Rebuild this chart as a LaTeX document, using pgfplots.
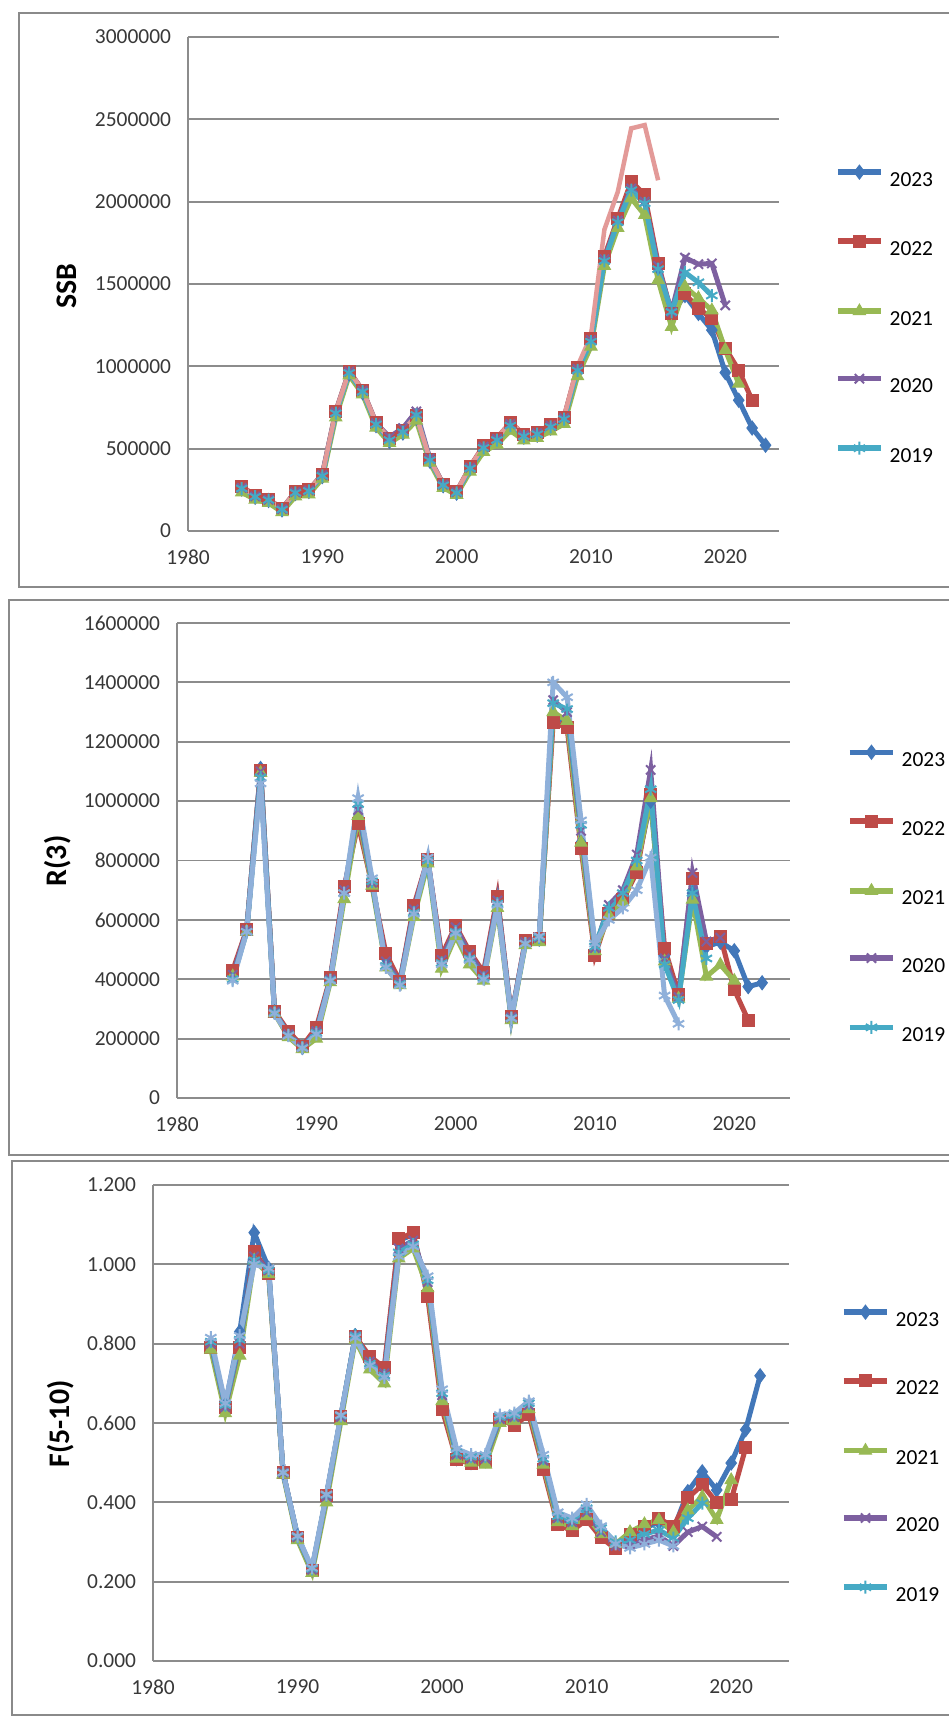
\documentclass[border=0pt]{standalone}
\usepackage{fontspec}
\setmainfont{Carlito}
\usepackage{pgfplots}
\usepackage{pgfplotstable}
\pgfplotsset{compat=1.18}

\definecolor{c23}{HTML}{4277B9}
\definecolor{c22}{HTML}{BE4B48}
\definecolor{c21}{HTML}{98B954}
\definecolor{c20}{HTML}{7D60A0}
\definecolor{c19}{HTML}{46AAC5}
\definecolor{cpink}{HTML}{E39A98}
\definecolor{clb}{HTML}{8FB0DA}
\definecolor{gridc}{HTML}{8C8C8C}
\definecolor{framec}{HTML}{8A8A8A}

\pgfplotstableread{
year s23 s22 s21 s20 s19 sx
1984 255000 270000 235000 262000 258000 268000
1985 205000 215000 190000 210000 208000 214000
1986 185000 193000 170000 190000 188000 192000
1987 128000 135000 115000 133000 130000 135000
1988 228000 239000 210000 236000 232000 238000
1989 240000 250000 222000 247000 243000 250000
1990 330000 343000 318000 340000 335000 342000
1991 705000 726000 690000 722000 715000 726000
1992 955000 970000 945000 968000 960000 970000
1993 840000 854000 830000 852000 846000 855000
1994 640000 657000 628000 655000 648000 657000
1995 545000 560000 535000 570000 552000 560000
1996 595000 610000 585000 625000 600000 610000
1997 685000 700000 670000 726000 705000 700000
1998 425000 436000 415000 440000 430000 436000
1999 275000 285000 262000 282000 278000 285000
2000 230000 239000 220000 236000 232000 240000
2001 378000 390000 360000 385000 380000 390000
2002 500000 517000 480000 512000 505000 517000
2003 548000 564000 525000 560000 552000 565000
2004 635000 657000 610000 650000 640000 657000
2005 570000 587000 550000 582000 575000 587000
2006 582000 598000 565000 594000 588000 600000
2007 625000 645000 605000 640000 632000 645000
2008 672000 691000 650000 686000 680000 695000
2009 965000 993000 940000 985000 975000 1000000
2010 1140000 1167000 1120000 1160000 1150000 1185000
2011 1630000 1666000 1610000 1650000 1640000 1830000
2012 1870000 1898000 1840000 1885000 1875000 2060000
2013 2090000 2122000 2020000 2080000 2070000 2445000
2014 2010000 2041000 1919000 2000000 1990000 2465000
2015 1600000 1625000 1524000 1610000 1590000 2130000
2016 1320000 1321000 1240000 1330000 1330000 nan
2017 1430000 1440000 1483000 1660000 1570000 nan
2018 1321000 1351000 1414000 1620000 1510000 nan
2019 1220000 1292000 1340000 1625000 1430000 nan
2020 962000 1110000 1100000 1370000 nan nan
2021 794000 977000 895000 nan nan nan
2022 625000 794000 nan nan nan nan
2023 521000 nan nan nan nan nan
}\ssbtable

\pgfplotstableread{
year s23 s22 s21 s20 s19 sx
1984 420000 430000 410000 415000 400000 395000
1985 565000 567000 560000 565000 560000 560000
1986 1110000 1104000 1095000 1100000 1080000 1060000
1987 290000 293000 285000 290000 288000 285000
1988 215000 224000 205000 215000 212000 210000
1989 170000 175000 165000 172000 170000 168000
1990 225000 237000 200000 225000 220000 215000
1991 400000 405000 390000 400000 398000 395000
1992 700000 711000 670000 700000 690000 690000
1993 940000 923000 950000 970000 990000 1010000
1994 720000 717000 715000 725000 730000 740000
1995 470000 486000 440000 460000 445000 440000
1996 390000 393000 380000 390000 385000 380000
1997 640000 648000 610000 635000 625000 620000
1998 800000 804000 790000 805000 800000 810000
1999 470000 480000 436000 465000 455000 450000
2000 570000 580000 545000 575000 560000 555000
2001 480000 493000 450000 485000 470000 465000
2002 415000 424000 395000 415000 405000 400000
2003 670000 680000 640000 665000 655000 650000
2004 270000 274000 262000 272000 270000 268000
2005 525000 530000 515000 525000 520000 520000
2006 535000 536000 525000 540000 540000 545000
2007 1290000 1266000 1300000 1340000 1330000 1400000
2008 1260000 1247000 1270000 1300000 1310000 1350000
2009 860000 842000 860000 900000 920000 935000
2010 490000 480000 495000 505000 510000 520000
2011 630000 623000 615000 650000 640000 600000
2012 680000 667000 660000 700000 690000 640000
2013 780000 760000 780000 820000 800000 700000
2014 1000000 1022000 1010000 1105000 1040000 810000
2015 480000 505000 460000 470000 450000 345000
2016 345000 349000 335000 340000 330000 250000
2017 690000 741000 668000 758000 690000 nan
2018 510000 522000 409000 527000 470000 nan
2019 525000 545000 449000 540000 nan nan
2020 496000 365000 395000 nan nan nan
2021 375000 262000 nan nan nan nan
2022 388000 nan nan nan nan nan
}\rtable

\pgfplotstableread{
year s23 s22 s21 s20 s19 sx
1984 0.800 0.791 0.785 0.800 0.805 0.815
1985 0.645 0.640 0.625 0.640 0.645 0.650
1986 0.830 0.791 0.770 0.800 0.810 0.820
1987 1.080 1.033 1.010 1.020 1.010 1.000
1988 0.990 0.978 0.975 0.985 0.985 0.990
1989 0.475 0.475 0.470 0.475 0.475 0.475
1990 0.315 0.311 0.305 0.312 0.313 0.315
1991 0.230 0.229 0.222 0.230 0.232 0.235
1992 0.415 0.416 0.400 0.415 0.418 0.420
1993 0.615 0.617 0.605 0.615 0.618 0.620
1994 0.820 0.818 0.810 0.820 0.820 0.815
1995 0.760 0.768 0.735 0.755 0.750 0.745
1996 0.735 0.740 0.700 0.725 0.720 0.715
1997 1.060 1.065 1.015 1.040 1.030 1.020
1998 1.075 1.079 1.040 1.060 1.050 1.045
1999 0.930 0.919 0.940 0.955 0.960 0.970
2000 0.645 0.635 0.655 0.670 0.675 0.685
2001 0.510 0.507 0.510 0.520 0.525 0.535
2002 0.500 0.498 0.500 0.510 0.515 0.520
2003 0.505 0.503 0.495 0.510 0.515 0.520
2004 0.610 0.608 0.600 0.610 0.615 0.620
2005 0.600 0.594 0.605 0.615 0.620 0.625
2006 0.630 0.622 0.635 0.645 0.650 0.655
2007 0.490 0.484 0.495 0.505 0.510 0.520
2008 0.350 0.343 0.350 0.360 0.365 0.375
2009 0.340 0.329 0.340 0.350 0.355 0.360
2010 0.360 0.356 0.365 0.375 0.385 0.395
2011 0.315 0.311 0.320 0.325 0.335 0.340
2012 0.290 0.283 0.295 0.290 0.300 0.295
2013 0.315 0.320 0.325 0.295 0.305 0.285
2014 0.335 0.338 0.345 0.305 0.320 0.295
2015 0.350 0.360 0.355 0.315 0.330 0.305
2016 0.330 0.338 0.325 0.290 0.310 0.290
2017 0.427 0.411 0.380 0.325 0.360 nan
2018 0.477 0.444 0.414 0.339 0.398 nan
2019 0.431 0.400 0.356 0.313 nan nan
2020 0.499 0.406 0.456 nan nan nan
2021 0.583 0.537 nan nan nan nan
2022 0.719 nan nan nan nan nan
}\ftable

\pgfplotsset{
  panel/.style={
    scale only axis,
    xmin=1980, xmax=2024,
    xtick={1980,1990,2000,2010,2020},
    ymin=0,
    axis lines*=left,
    ymajorgrids,
    grid style={gridc, line width=1.8bp},
    axis line style={gridc, line width=1.8bp},
    major tick length=0pt,
    tick label style={font=\fontsize{21.5}{25}\selectfont, text=black!78},
    yticklabel style={xshift=-13.5bp},
    xticklabel style={yshift=-15.5bp},
    /pgf/number format/.cd, fixed, precision=0, 1000 sep={}, assume math mode=true,
    /pgfplots/.cd,
    scaled y ticks=false,
    scaled x ticks=false,
    clip=false,
    label style={font=\bfseries\fontsize{30}{35}\selectfont},
    legend cell align=left,
    legend style={draw=none, fill=none, inner sep=0pt, column sep=6bp,
      font=\fontsize{21.5}{25}\selectfont,
      nodes={inner sep=0pt, text height=14bp, text depth=0bp},
      anchor=north west},
    legend image code/.code={\draw[##1, line width=5.5bp, mark repeat=2, mark phase=2]
       plot coordinates {(0bp,7bp) (21.5bp,7bp) (43bp,7bp)};},
  },
  s23/.style={c23, line width=5bp, mark=diamond*, mark size=7bp, mark options={solid, fill=c23, line width=1bp}},
  s22/.style={c22, line width=5bp, mark=square*, mark size=6bp, mark options={solid, fill=c22, line width=1bp}},
  s21/.style={c21, line width=5bp, mark=triangle*, mark size=7bp, mark options={solid, fill=c21, line width=1bp}},
  s20/.style={c20, line width=5bp, mark=x, mark size=6.5bp, mark options={solid, line width=2bp}},
  s19/.style={c19, line width=5bp, mark=asterisk, mark size=6.5bp, mark options={solid, line width=2bp}},
  sx/.style={line width=5bp, mark=asterisk, mark size=6.5bp, mark options={solid, line width=2bp}},
}

\begin{document}
\begin{tikzpicture}
\useasboundingbox (0bp,0bp) rectangle (949bp,1718bp);
\fill[white] (0bp,0bp) rectangle (949bp,1718bp);
% panel frames
\draw[framec, line width=2bp] (949bp,1705bp) -- (19bp,1705bp) -- (19bp,1131bp) -- (949bp,1131bp);
\draw[framec, line width=2bp] (949bp,1118bp) -- (9bp,1118bp) -- (9bp,563bp) -- (949bp,563bp);
\draw[framec, line width=2bp] (949bp,557bp) -- (12bp,557bp) -- (12bp,3bp) -- (949bp,3bp);

% SSB
\begin{axis}[panel, at={(188bp,1187bp)}, anchor=south west,
  width=591bp, height=494bp,
  ymax=3000000, ytick={0,500000,1000000,1500000,2000000,2500000,3000000},
  ylabel={SSB},
  ylabel style={at={(axis description cs:-0.205,0.496)}, anchor=center},
  legend style={at={(axis description cs:1.0947,0.741)}, row sep=49bp}]
\addplot[s23] table[x=year, y=s23] {\ssbtable};
\addlegendentry{2023}
\addplot[s22] table[x=year, y=s22] {\ssbtable};
\addlegendentry{2022}
\addplot[s21] table[x=year, y=s21] {\ssbtable};
\addlegendentry{2021}
\addplot[s20] table[x=year, y=s20] {\ssbtable};
\addlegendentry{2020}
\addplot[s19] table[x=year, y=s19] {\ssbtable};
\addlegendentry{2019}
\addplot[cpink, line width=4.5bp, forget plot] table[x=year, y=sx] {\ssbtable};
\end{axis}

% R(3)
\begin{axis}[panel, at={(177bp,620bp)}, anchor=south west,
  width=613bp, height=475bp,
  ymax=1600000, ytick={0,200000,400000,600000,800000,1000000,1200000,1400000,1600000},
  ylabel={R(3)},
  ylabel style={at={(axis description cs:-0.195,0.499)}, anchor=center},
  legend style={at={(axis description cs:1.093,0.743)}, row sep=48.75bp}]
\addplot[s23] table[x=year, y=s23] {\rtable};
\addlegendentry{2023}
\addplot[s22] table[x=year, y=s22] {\rtable};
\addlegendentry{2022}
\addplot[s21] table[x=year, y=s21] {\rtable};
\addlegendentry{2021}
\addplot[s20] table[x=year, y=s20] {\rtable};
\addlegendentry{2020}
\addplot[s19] table[x=year, y=s19] {\rtable};
\addlegendentry{2019}
\addplot[clb, sx, forget plot] table[x=year, y=sx] {\rtable};
\end{axis}

% F(5-10)
\begin{axis}[panel, at={(153bp,57bp)}, anchor=south west,
  width=636bp, height=476bp,
  ymax=1.2, ytick={0,0.2,0.4,0.6,0.8,1.0,1.2},
  yticklabel style={/pgf/number format/.cd, fixed, fixed zerofill, precision=3},
  ylabel={F(5-10)},
  ylabel style={at={(axis description cs:-0.1454,0.498)}, anchor=center},
  legend style={at={(axis description cs:1.0818,0.748)}, row sep=48.75bp}]
\addplot[s23] table[x=year, y=s23] {\ftable};
\addlegendentry{2023}
\addplot[s22] table[x=year, y=s22] {\ftable};
\addlegendentry{2022}
\addplot[s21] table[x=year, y=s21] {\ftable};
\addlegendentry{2021}
\addplot[s20] table[x=year, y=s20] {\ftable};
\addlegendentry{2020}
\addplot[s19] table[x=year, y=s19] {\ftable};
\addlegendentry{2019}
\addplot[clb, sx, forget plot] table[x=year, y=sx] {\ftable};
\end{axis}
\end{tikzpicture}
\end{document}
